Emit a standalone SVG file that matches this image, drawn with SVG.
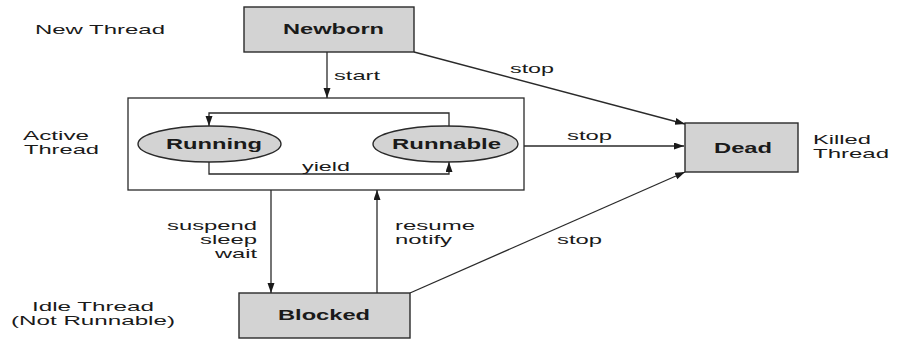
<svg xmlns="http://www.w3.org/2000/svg" width="901" height="339" viewBox="0 0 901 339">
<style>
text{font-family:"Liberation Sans",Arial,sans-serif;fill:#1a1a1a;font-size:13px}
.b{font-weight:bold;font-size:14px}
.box{fill:#d3d3d3;stroke:#2a2a2a;stroke-width:1.4}
.frame{fill:#fff;stroke:#2a2a2a;stroke-width:1.3}
.c{fill:none;stroke:#2a2a2a;stroke-width:1.3}
</style>
<defs>
<marker id="ah" markerWidth="11" markerHeight="8" refX="10" refY="3.5" orient="auto" markerUnits="userSpaceOnUse">
<path d="M0,0 L10,3.5 L0,7 z" fill="#1a1a1a"/>
</marker>
</defs>
<rect width="901" height="339" fill="#fff"/>
<g id="labels">
<text x="35" y="34" textLength="130" lengthAdjust="spacingAndGlyphs">New Thread</text>
<text x="23" y="140" textLength="66" lengthAdjust="spacingAndGlyphs">Active</text>
<text x="24" y="154" textLength="75" lengthAdjust="spacingAndGlyphs">Thread</text>
<text x="813" y="144" textLength="58" lengthAdjust="spacingAndGlyphs">Killed</text>
<text x="813" y="158" textLength="76" lengthAdjust="spacingAndGlyphs">Thread</text>
<text x="32" y="311" textLength="122" lengthAdjust="spacingAndGlyphs">Idle Thread</text>
<text x="11" y="325" textLength="164" lengthAdjust="spacingAndGlyphs">(Not Runnable)</text>
</g>
<g id="active">
<rect class="frame" x="128" y="98" width="396" height="92"/>
</g>
<g id="newborn">
<rect class="box" x="244" y="7" width="170" height="45"/>
<text class="b" x="283" y="34" textLength="101" lengthAdjust="spacingAndGlyphs">Newborn</text>
</g>
<g id="running">
<ellipse class="box" cx="209.5" cy="144" rx="71.5" ry="18"/>
<text class="b" x="166" y="149" textLength="96" lengthAdjust="spacingAndGlyphs">Running</text>
</g>
<g id="runnable">
<ellipse class="box" cx="445.5" cy="144" rx="72.5" ry="18"/>
<text class="b" x="392" y="149" textLength="109" lengthAdjust="spacingAndGlyphs">Runnable</text>
</g>
<g id="dead">
<rect class="box" x="685" y="123" width="113" height="49"/>
<text class="b" x="714" y="153" textLength="58" lengthAdjust="spacingAndGlyphs">Dead</text>
</g>
<g id="blocked">
<rect class="box" x="239" y="293" width="171" height="45"/>
<text class="b" x="278" y="320" textLength="92" lengthAdjust="spacingAndGlyphs">Blocked</text>
</g>
<g id="connectors">
<path class="c" d="M327,52 V98" marker-end="url(#ah)"/>
<path class="c" d="M414,52 L685,124" marker-end="url(#ah)"/>
<path class="c" d="M524,146 H684" marker-end="url(#ah)"/>
<path class="c" d="M410,293 L685,172" marker-end="url(#ah)"/>
<path class="c" d="M271,190 V293" marker-end="url(#ah)"/>
<path class="c" d="M377,293 V190" marker-end="url(#ah)"/>
<path class="c" d="M449,126 V113 H209 V126" marker-end="url(#ah)"/>
<path class="c" d="M209,162 V174 H449 V162" marker-end="url(#ah)"/>
</g>
<g id="connector-labels">
<text x="334" y="80" textLength="46" lengthAdjust="spacingAndGlyphs">start</text>
<text x="510" y="73" textLength="44" lengthAdjust="spacingAndGlyphs">stop</text>
<text x="567" y="140" textLength="45" lengthAdjust="spacingAndGlyphs">stop</text>
<text x="557" y="244" textLength="45" lengthAdjust="spacingAndGlyphs">stop</text>
<text x="302" y="171" textLength="48" lengthAdjust="spacingAndGlyphs">yield</text>
<text x="167" y="230" textLength="90" lengthAdjust="spacingAndGlyphs">suspend</text>
<text x="200" y="244" textLength="57" lengthAdjust="spacingAndGlyphs">sleep</text>
<text x="215" y="258" textLength="42" lengthAdjust="spacingAndGlyphs">wait</text>
<text x="395" y="230" textLength="80" lengthAdjust="spacingAndGlyphs">resume</text>
<text x="395" y="244" textLength="57" lengthAdjust="spacingAndGlyphs">notify</text>
</g>
</svg>
